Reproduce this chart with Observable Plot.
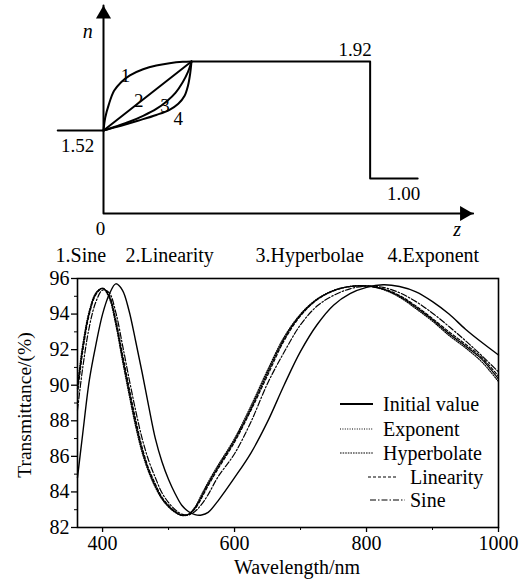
<!DOCTYPE html>
<html>
<head>
<meta charset="utf-8">
<script src="https://cdn.jsdelivr.net/npm/d3@7"></script>
<script src="https://cdn.jsdelivr.net/npm/@observablehq/plot@0.6"></script>
<style>
  body { margin: 0; background: #fff; }
  #wrap { position: relative; width: 521px; height: 584px; overflow: hidden; background: #fff; }
  #wrap > svg { display: block; }
  #legend { position: absolute; left: 0; top: 0; pointer-events: none; }
</style>
</head>
<body>
<div id="wrap"></div>
<script>
// ---------- Top schematic: refractive-index profile ----------
const profileNames = ["1.Sine", "2.Linearity", "3.Hyperbolae", "4.Exponent"];
const levelLabels = ["1.52", "1.92", "1.00"];
const nSubstrate = 1.52, nFilm = 1.92, nAir = 1.00;
const nBase = 0.6, nTop = 2.25;          // schematic axis extents
const zLeft = -0.52, zGrad = 1, zStep = 3.03, zEnd = 3.57, zArrow = 4.2;

const sineZ  = [0, 0.02, 0.06, 0.12, 0.2, 0.3, 0.45, 0.6, 0.75, 0.9, 1];
const sineN  = [1.52, 1.595, 1.67, 1.75, 1.80, 1.84, 1.875, 1.897, 1.91, 1.918, 1.92];
const linZ   = [0, 1];
const linN   = [1.52, 1.92];
const hypZ   = [0, 0.15, 0.3, 0.45, 0.6, 0.72, 0.82, 0.9, 0.96, 1];
const hypN   = [1.52, 1.545, 1.572, 1.605, 1.645, 1.69, 1.74, 1.80, 1.86, 1.92];
const expZ   = [0, 0.2, 0.4, 0.6, 0.75, 0.85, 0.92, 0.96, 0.985, 1];
const expN   = [1.52, 1.548, 1.578, 1.61, 1.64, 1.675, 1.72, 1.78, 1.85, 1.92];

// ---------- Bottom chart: transmittance ----------
const wavelength = [362, 370, 380, 390, 400, 410, 420, 430, 440, 450, 460, 470, 480, 490, 500, 510, 520, 530, 540, 550, 560, 575, 600, 625, 650, 675, 700, 725, 750, 775, 800, 825, 850, 875, 900, 925, 950, 975, 1000];
const initialT = [84.8, 87.3, 90.3, 92.3, 94.0, 95.1, 95.7, 95.35, 94.2, 92.5, 90.7, 88.8, 87.0, 85.7, 84.7, 83.9, 83.25, 82.9, 82.72, 82.7, 82.85, 83.5, 84.8, 86.2, 87.95, 90.0, 91.9, 93.4, 94.5, 95.15, 95.5, 95.65, 95.55, 95.25, 94.7, 94.0, 93.15, 92.4, 91.7];
const exponentT = [90.0, 92.3, 94.2, 95.2, 95.45, 94.9, 93.4, 91.4, 89.5, 87.7, 86.2, 85.1, 84.25, 83.6, 83.15, 82.85, 82.68, 82.75, 83.15, 83.85, 84.55, 85.5, 87.0, 88.85, 90.85, 92.7, 94.0, 94.85, 95.33, 95.55, 95.58, 95.38, 94.95, 94.3, 93.6, 92.8, 92.1, 91.3, 90.2];
const hyperbolateT = [89.8, 92.1, 94.1, 95.15, 95.45, 95.0, 93.55, 91.6, 89.7, 87.9, 86.35, 85.2, 84.35, 83.65, 83.2, 82.88, 82.68, 82.73, 83.1, 83.75, 84.45, 85.4, 86.9, 88.7, 90.7, 92.6, 93.95, 94.82, 95.32, 95.55, 95.58, 95.4, 95.0, 94.38, 93.68, 92.9, 92.2, 91.45, 90.35];
const linearityT = [89.5, 91.9, 94.0, 95.1, 95.45, 95.05, 93.7, 91.8, 89.9, 88.1, 86.5, 85.3, 84.45, 83.7, 83.25, 82.9, 82.7, 82.72, 83.05, 83.65, 84.35, 85.3, 86.8, 88.6, 90.55, 92.5, 93.9, 94.8, 95.3, 95.55, 95.58, 95.42, 95.05, 94.45, 93.75, 93.0, 92.3, 91.55, 90.5];
const sineT = [88.6, 91.0, 93.3, 94.7, 95.35, 95.2, 94.1, 92.3, 90.4, 88.6, 87.0, 85.75, 84.8, 83.95, 83.4, 83.0, 82.75, 82.7, 82.9, 83.3, 83.85, 84.85, 86.15, 87.95, 90.1, 91.85, 93.4, 94.45, 95.05, 95.42, 95.58, 95.5, 95.2, 94.7, 94.05, 93.3, 92.5, 91.65, 90.75];
const seriesNames = ["Initial value", "Exponent", "Hyperbolate", "Linearity", "Sine"];
const xMajor = [400, 600, 800, 1000];
const xMinor = [500, 700, 900];
const yMajor = [82, 84, 86, 88, 90, 92, 94, 96];
const yMinor = [83, 85, 87, 89, 91, 93, 95];

const serif = "'Liberation Serif', 'Times New Roman', serif";
const pts = (zs, ns) => zs.map((z, i) => ({z, n: ns[i]}));

// schematic (non-linear) vertical placement of the index levels
const nSchematic = d3.scaleLinear([nBase, nAir, nSubstrate, nFilm, nTop], [0, 35, 83, 152, 208]);

// ---------- draw top ----------
const topChart = Plot.plot({
  width: 521, height: 266,
  marginLeft: 0, marginRight: 0, marginTop: 0, marginBottom: 0,
  x: {domain: [0, 1], range: [103, 191], axis: null},
  y: {transform: nSchematic, domain: [0, 208], range: [213, 5], axis: null},
  style: {fontFamily: serif, fontSize: "20px", color: "black", background: "white", overflow: "visible"},
  marks: [
    Plot.line([{z: 0, n: nTop}, {z: 0, n: nBase}, {z: zArrow, n: nBase}], {x: "z", y: "n", stroke: "black", strokeWidth: 2}),
    Plot.dot([{z: 0, n: nTop}], {x: "z", y: "n", symbol: "triangle", r: 5.6, fill: "black", dy: 8.7}),
    Plot.dot([{z: zArrow, n: nBase}], {x: "z", y: "n", symbol: "triangle", r: 5.6, fill: "black", rotate: 90, dx: -8.7}),
    Plot.line([{z: zLeft, n: nSubstrate}, {z: 0, n: nSubstrate}], {x: "z", y: "n", stroke: "black", strokeWidth: 2}),
    Plot.line([{z: zGrad, n: nFilm}, {z: zStep, n: nFilm}, {z: zStep, n: nAir}, {z: zEnd, n: nAir}], {x: "z", y: "n", stroke: "black", strokeWidth: 2}),
    Plot.line(pts(sineZ, sineN), {x: "z", y: "n", curve: "catmull-rom", stroke: "black", strokeWidth: 2}),
    Plot.line(pts(linZ, linN), {x: "z", y: "n", stroke: "black", strokeWidth: 2}),
    Plot.line(pts(hypZ, hypN), {x: "z", y: "n", curve: "catmull-rom", stroke: "black", strokeWidth: 2}),
    Plot.line(pts(expZ, expN), {x: "z", y: "n", curve: "catmull-rom", stroke: "black", strokeWidth: 2}),
    Plot.text([{z: -0.295, n: nSubstrate, t: levelLabels[0]}], {x: "z", y: "n", text: "t", dy: 15, fontSize: 19, fill: "black"}),
    Plot.text([{z: 2.86, n: nFilm, t: levelLabels[1]}], {x: "z", y: "n", text: "t", dy: -12, fontSize: 19, fill: "black"}),
    Plot.text([{z: 3.41, n: nAir, t: levelLabels[2]}], {x: "z", y: "n", text: "t", dy: 15, fontSize: 19, fill: "black"}),
    Plot.text([{z: -0.034, n: nBase, t: "0"}], {x: "z", y: "n", text: "t", dy: 15, fontSize: 19, fill: "black"}),
    Plot.text([{z: -0.18, n: nTop, t: "n"}], {x: "z", y: "n", text: "t", dy: 26, fontSize: 20, fontStyle: "italic", fill: "black"}),
    Plot.text([{z: 4.02, n: nBase, t: "z"}], {x: "z", y: "n", text: "t", dy: 16, fontSize: 20, fontStyle: "italic", fill: "black"}),
    Plot.text([{z: 0.25, n: 1.835, t: "1"}, {z: 0.4, n: 1.694, t: "2"}, {z: 0.7, n: 1.665, t: "3"}, {z: 0.85, n: 1.59, t: "4"}],
      {x: "z", y: "n", text: "t", fontSize: 19, fill: "black"}),
    Plot.text(profileNames.map((t, i) => ({t, z: [-0.545, 0.25, 1.727, 3.227][i], n: nBase})),
      {x: "z", y: "n", text: "t", dy: 42, textAnchor: "start", fontSize: 20, fill: "black"})
  ]
});

// ---------- draw bottom ----------
const rows = (vals, name) => wavelength.map((w, i) => ({w, T: vals[i], name}));
const styles = [
  {vals: initialT, dash: null, width: 1.4},
  {vals: exponentT, dash: "1,1.4", width: 1.2},
  {vals: hyperbolateT, dash: "1.6,1", width: 1.3},
  {vals: linearityT, dash: "3,2", width: 1.2},
  {vals: sineT, dash: "6,2,1.5,2", width: 1.2}
];

const bottomChart = Plot.plot({
  width: 521, height: 318,
  marginLeft: 77, marginRight: 23, marginTop: 12, marginBottom: 57,
  x: {domain: [362, 1000], label: null},
  y: {domain: [82, 96], label: null},
  style: {fontFamily: serif, fontSize: "20px", color: "black", background: "white", overflow: "visible"},
  marks: [
    ...styles.map((s, k) => Plot.line(rows(s.vals, seriesNames[k]), {
      x: "w", y: "T", curve: "catmull-rom", stroke: "black", strokeWidth: s.width,
      strokeDasharray: s.dash ?? undefined
    })),
    Plot.frame({stroke: "black", strokeWidth: 1.6}),
    Plot.axisX(xMajor, {tickSize: 5, tickPadding: 3, tickFormat: "d", label: null, fontSize: 20, stroke: "black", strokeWidth: 1.3}),
    Plot.axisX(xMinor, {tickSize: 3, tickFormat: () => "", label: null, stroke: "black"}),
    Plot.axisY(yMajor, {tickSize: 6, tickPadding: 2, tickFormat: "d", label: null, fontSize: 20, stroke: "black", strokeWidth: 1.3}),
    Plot.axisY(yMinor, {tickSize: 3, tickFormat: () => "", label: null, stroke: "black"}),
    Plot.text(["Wavelength/nm"], {frameAnchor: "bottom", lineAnchor: "middle", textAnchor: "middle", dx: 9, dy: 40, fontSize: 20, fill: "black"}),
    Plot.text(["Transmittance/(%)"], {frameAnchor: "left", textAnchor: "middle", lineAnchor: "middle", rotate: -90, dx: -53, dy: 2, fontSize: 19.5, fill: "black"})
  ]
});

const wrap = document.getElementById("wrap");
wrap.appendChild(topChart);
wrap.appendChild(bottomChart);

// ---------- legend overlay ----------
const legendItems = [
  {x1: 340, x2: 373, tx: 383, y: 404},
  {x1: 340, x2: 373, tx: 383, y: 429},
  {x1: 340, x2: 373, tx: 383, y: 453},
  {x1: 368, x2: 398, tx: 410, y: 477},
  {x1: 370, x2: 405, tx: 410, y: 500}
];
const lg = d3.select(wrap).append("svg").attr("id", "legend").attr("width", 521).attr("height", 584);
legendItems.forEach((it, k) => {
  const s = styles[k];
  lg.append("line").attr("x1", it.x1).attr("x2", it.x2).attr("y1", it.y).attr("y2", it.y)
    .attr("stroke", "black").attr("stroke-width", k === 0 ? 1.8 : 1.1)
    .attr("stroke-dasharray", s.dash);
  lg.append("text").attr("x", it.tx).attr("y", it.y).attr("dy", "0.35em")
    .attr("font-family", serif).attr("font-size", 20).attr("fill", "black")
    .text(seriesNames[k]);
});
</script>
</body>
</html>
